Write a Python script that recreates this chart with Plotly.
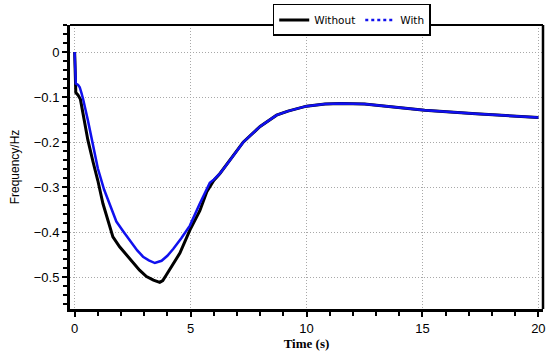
import plotly.graph_objects as go

# Time (s) and frequency deviation (Hz)
t_without = [0, 0.02, 0.05, 0.14, 0.25, 0.36, 0.57, 0.8, 1.0, 1.22, 1.45, 1.65, 1.94, 2.2, 2.52, 2.8, 3.1, 3.4, 3.67, 3.8, 3.96, 4.25, 4.54, 4.97, 5.4, 5.7, 6.0, 6.26, 6.7, 7.27, 8.0, 8.71, 9.2, 10.0, 10.8, 11.5, 12.5, 13.7, 15.1, 17.3, 20.0]
f_without = [0, -0.077, -0.09, -0.095, -0.105, -0.136, -0.195, -0.245, -0.285, -0.336, -0.375, -0.41, -0.432, -0.448, -0.469, -0.484, -0.498, -0.506, -0.511, -0.507, -0.494, -0.47, -0.446, -0.395, -0.352, -0.31, -0.285, -0.27, -0.24, -0.2, -0.165, -0.14, -0.131, -0.12, -0.115, -0.114, -0.115, -0.121, -0.129, -0.137, -0.145]

t_with = [0, 0.02, 0.05, 0.15, 0.22, 0.29, 0.36, 0.57, 0.79, 1.0, 1.27, 1.37, 1.6, 1.8, 2.1, 2.38, 2.7, 2.95, 3.2, 3.46, 3.75, 4.0, 4.25, 4.6, 4.97, 5.4, 5.83, 6.0, 6.26, 6.7, 7.27, 8.0, 8.71, 9.2, 10.0, 10.8, 11.5, 12.5, 13.7, 15.1, 17.3, 20.0]
f_with = [0, -0.062, -0.07, -0.073, -0.078, -0.09, -0.103, -0.151, -0.21, -0.258, -0.305, -0.318, -0.35, -0.376, -0.398, -0.417, -0.44, -0.454, -0.462, -0.468, -0.463, -0.452, -0.437, -0.413, -0.385, -0.336, -0.29, -0.283, -0.27, -0.24, -0.2, -0.165, -0.14, -0.131, -0.12, -0.115, -0.114, -0.115, -0.121, -0.129, -0.137, -0.145]

x_ticks = [0, 5, 10, 15, 20]
y_ticks = [0, -0.1, -0.2, -0.3, -0.4, -0.5]

fig = go.Figure()
fig.add_trace(go.Scatter(x=t_without, y=f_without, mode="lines", name="Without",
                         line=dict(color="black", width=3), showlegend=True))
fig.add_trace(go.Scatter(x=t_with, y=f_with, mode="lines", name="With",
                         line=dict(color="#1010ee", width=2.5), showlegend=False))
fig.add_trace(go.Scatter(x=[None], y=[None], mode="lines", name="With",
                         line=dict(color="#1010ee", width=2.5, dash="dot")))

grid = dict(showgrid=True, gridcolor="#a8a8a8", griddash="1px,2px", gridwidth=1, zeroline=False)

fig.update_layout(
    width=550, height=352,
    margin=dict(l=70, r=7, t=25, b=43, autoexpand=False),
    paper_bgcolor="white", plot_bgcolor="white",
    font=dict(family="Liberation Sans, Arial", size=13, color="black"),
    legend=dict(orientation="h", x=0.4286, xanchor="left", y=1.074, yanchor="top",
                bordercolor="black", borderwidth=1.5, bgcolor="white",
                font=dict(family="DejaVu Sans", size=10.5, color="black"),
                itemwidth=30, tracegroupgap=0),
    xaxis=dict(range=[-0.2, 20.2], tickvals=x_ticks, ticks="outside", ticklen=5, tickwidth=1.5,
               tickcolor="black", showline=True, linewidth=3, linecolor="black",
               minor=dict(dtick=1, ticks="outside", ticklen=4, tickwidth=1.5, tickcolor="black", showgrid=False),
               title=dict(text="Time (s)", font=dict(family="Liberation Serif, Times New Roman", size=13, weight="bold"), standoff=3),
               **grid),
    yaxis=dict(range=[-0.57, 0.06], tickvals=y_ticks, ticks="outside", ticklen=5, tickwidth=1.5,
               tickcolor="black", showline=True, linewidth=3, linecolor="black",
               minor=dict(dtick=0.02, ticks="outside", ticklen=4, tickwidth=1.5, tickcolor="black", showgrid=False),
               title=dict(text="Frequency/Hz", font=dict(size=12), standoff=12),
               **grid),
    shapes=[
        dict(type="line", xref="paper", yref="paper", x0=0, x1=1, y0=1, y1=1, line=dict(color="black", width=2)),
        dict(type="line", xref="paper", yref="paper", x0=1, x1=1, y0=0, y1=1, line=dict(color="black", width=2.5)),
    ],
)
fig.write_html("out.html", config={"displayModeBar": False},
               post_script="document.body.style.margin='0';document.body.style.overflow='hidden';")
